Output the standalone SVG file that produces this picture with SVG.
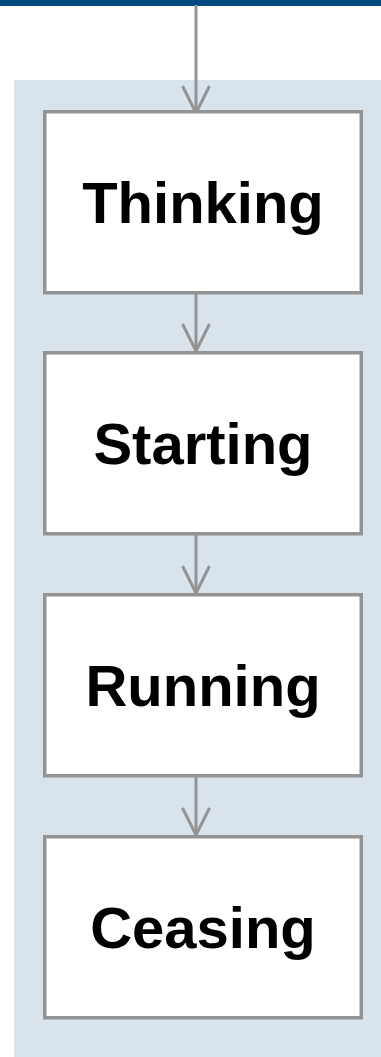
<svg xmlns="http://www.w3.org/2000/svg" width="381" height="1057" viewBox="0 0 381 1057">
  <defs>
    <!-- open V arrowhead, tip at the end of the line -->
    <marker id="vee" markerUnits="userSpaceOnUse" markerWidth="30" markerHeight="30" refX="28" refY="15" orient="auto" viewBox="0 0 30 30">
      <path d="M1,1.5 L28,15 L1,28.5" fill="none" stroke="#939393" stroke-width="3" stroke-linejoin="miter"/>
    </marker>
    <style>
      .node rect { fill: #ffffff; stroke: #939393; stroke-width: 3.5; }
      .node text { font-family: "Liberation Sans", Arial, sans-serif; font-weight: bold; font-size: 58px; fill: #000000; text-anchor: middle; }
      .edge { stroke: #939393; stroke-width: 3; fill: none; }
    </style>
  </defs>

  <!-- header bar and swimlane -->
  <rect x="0" y="0" width="381" height="6" fill="#004a7f"/>
  <rect x="14" y="80" width="367" height="977" fill="#d9e3ec"/>

  <!-- connectors -->
  <g id="connectors">
    <line class="edge" x1="196" y1="5" x2="196" y2="113" marker-end="url(#vee)"/>
    <line class="edge" x1="196" y1="294" x2="196" y2="351" marker-end="url(#vee)"/>
    <line class="edge" x1="196" y1="535" x2="196" y2="593" marker-end="url(#vee)"/>
    <line class="edge" x1="196" y1="777" x2="196" y2="835" marker-end="url(#vee)"/>
  </g>

  <g id="thinking" class="node">
    <rect x="44.75" y="111.75" width="316.5" height="181"/>
    <text x="203" y="223">Thinking</text>
  </g>
  <g id="starting" class="node">
    <rect x="44.75" y="352.75" width="316.5" height="181"/>
    <text x="203" y="464">Starting</text>
  </g>
  <g id="running" class="node">
    <rect x="44.75" y="594.75" width="316.5" height="181"/>
    <text x="203" y="706">Running</text>
  </g>
  <g id="ceasing" class="node">
    <rect x="44.75" y="836.75" width="316.5" height="181"/>
    <text x="203" y="948">Ceasing</text>
  </g>
</svg>
